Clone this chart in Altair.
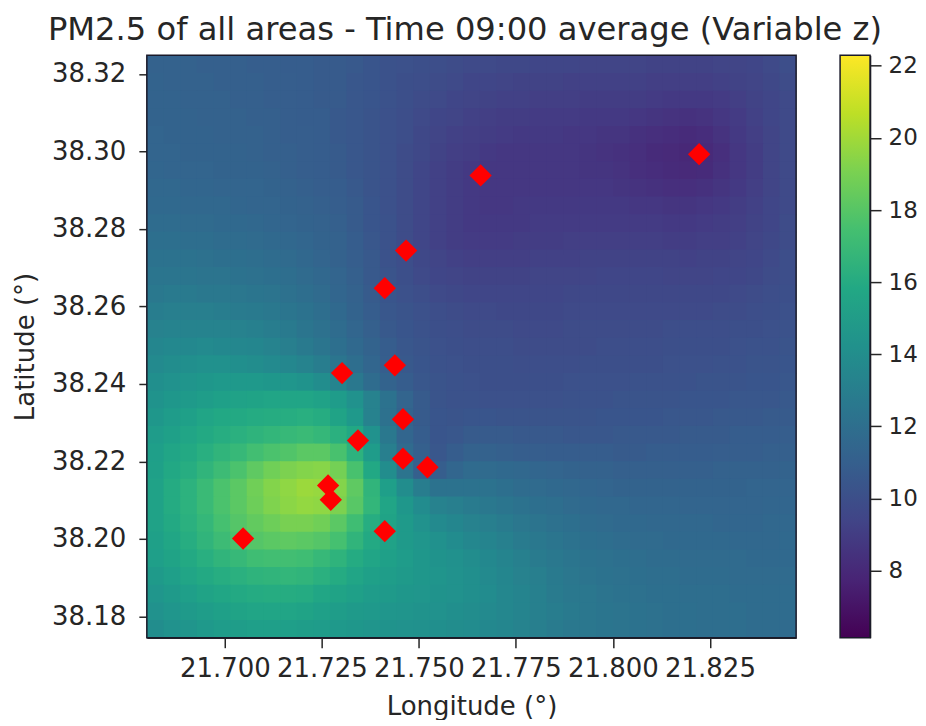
import altair as alt
import pandas as pd

title_text = "PM2.5 of all areas - Time 09:00 average (Variable z)"
lon_range = [21.6799, 21.8472]
lat_range = [38.1745, 38.3248]
z_range = [6.14, 22.29]
x_ticks = [21.700, 21.725, 21.750, 21.775, 21.800, 21.825]
y_ticks = [38.18, 38.20, 38.22, 38.24, 38.26, 38.28, 38.30, 38.32]
z_ticks = [8, 10, 12, 14, 16, 18, 20, 22]

station_lon = [21.7047, 21.7266, 21.7273, 21.7412, 21.7343, 21.7459, 21.7522,
               21.7459, 21.7302, 21.7438, 21.7412, 21.7467, 21.7659, 21.8222]
station_lat = [38.2001, 38.2138, 38.2101, 38.2020, 38.2254, 38.2207, 38.2185,
               38.2309, 38.2428, 38.2448, 38.2647, 38.2744, 38.2938, 38.2993]

# rows from the top of the picture to the bottom, columns left to right
z_rows = [
 [11.1,11.1,11.1,11.0,11.0,11.0,10.9,10.9,10.8,10.8,10.7,10.7,10.6,10.4,10.2,10.1,10.0,9.9,9.8,9.7,9.7,9.6,9.6,9.5,9.5,9.5,9.4,9.4,9.4,9.4,9.3,9.3,9.3,9.3,9.4,9.4,9.5,9.7,9.9],
 [11.2,11.1,11.1,11.1,11.0,11.0,11.0,10.9,10.9,10.8,10.7,10.7,10.5,10.4,10.2,10.0,9.9,9.8,9.7,9.5,9.5,9.4,9.3,9.3,9.3,9.2,9.2,9.2,9.2,9.2,9.1,9.1,9.1,9.1,9.2,9.3,9.4,9.6,9.8],
 [11.2,11.2,11.1,11.1,11.1,11.0,11.0,10.9,10.9,10.8,10.7,10.7,10.5,10.4,10.2,10.0,9.8,9.7,9.5,9.4,9.3,9.2,9.2,9.1,9.1,9.1,9.0,9.0,9.0,9.0,8.9,8.8,8.8,8.8,8.9,9.1,9.3,9.5,9.7],
 [11.2,11.2,11.2,11.1,11.1,11.1,11.0,11.0,10.9,10.8,10.8,10.6,10.5,10.3,10.1,9.9,9.7,9.5,9.4,9.2,9.1,9.0,9.0,8.9,8.9,8.9,8.8,8.8,8.8,8.7,8.6,8.5,8.4,8.5,8.7,8.9,9.2,9.5,9.7],
 [11.3,11.2,11.2,11.2,11.1,11.1,11.1,11.0,10.9,10.9,10.8,10.6,10.5,10.3,10.1,9.9,9.6,9.4,9.2,9.1,9.0,8.9,8.8,8.8,8.8,8.7,8.7,8.6,8.6,8.4,8.3,8.2,8.1,8.2,8.5,8.8,9.1,9.4,9.7],
 [11.3,11.3,11.2,11.2,11.2,11.2,11.1,11.0,11.0,10.9,10.8,10.7,10.5,10.3,10.1,9.8,9.6,9.3,9.1,9.0,8.8,8.7,8.7,8.7,8.7,8.7,8.6,8.5,8.4,8.3,8.1,8.0,7.9,8.0,8.3,8.7,9.0,9.4,9.7],
 [11.4,11.3,11.3,11.3,11.2,11.2,11.2,11.1,11.0,10.9,10.8,10.7,10.5,10.3,10.1,9.8,9.5,9.2,9.0,8.8,8.7,8.7,8.7,8.7,8.7,8.7,8.6,8.6,8.5,8.3,8.2,8.1,8.0,8.1,8.4,8.7,9.0,9.4,9.7],
 [11.5,11.5,11.4,11.4,11.3,11.3,11.3,11.2,11.1,11.0,10.9,10.8,10.6,10.3,10.1,9.8,9.5,9.2,9.0,8.8,8.7,8.7,8.7,8.7,8.7,8.7,8.7,8.7,8.6,8.5,8.4,8.3,8.3,8.4,8.6,8.8,9.1,9.4,9.7],
 [11.6,11.6,11.5,11.5,11.5,11.4,11.3,11.3,11.2,11.1,11.0,10.9,10.7,10.4,10.1,9.8,9.5,9.2,9.0,8.8,8.7,8.7,8.8,8.8,8.8,8.8,8.8,8.8,8.8,8.7,8.7,8.6,8.6,8.7,8.8,9.0,9.2,9.5,9.7],
 [11.8,11.8,11.7,11.7,11.6,11.6,11.5,11.4,11.3,11.2,11.1,11.0,10.7,10.4,10.2,9.8,9.5,9.2,9.0,8.8,8.8,8.8,8.8,8.9,8.9,8.9,8.9,8.9,8.9,8.9,8.9,8.8,8.8,8.9,9.0,9.1,9.3,9.5,9.8],
 [12.0,12.0,11.9,11.9,11.8,11.8,11.7,11.6,11.5,11.4,11.2,11.1,10.8,10.5,10.2,9.8,9.5,9.2,9.0,8.9,8.9,8.9,9.0,9.0,9.0,9.1,9.1,9.1,9.1,9.1,9.1,9.0,9.0,9.1,9.1,9.2,9.4,9.6,9.8],
 [12.2,12.2,12.2,12.1,12.0,12.0,11.9,11.8,11.7,11.5,11.3,11.1,10.9,10.6,10.2,9.9,9.6,9.4,9.2,9.1,9.1,9.1,9.1,9.2,9.2,9.2,9.3,9.3,9.3,9.3,9.3,9.3,9.2,9.3,9.3,9.4,9.5,9.7,9.9],
 [12.4,12.4,12.4,12.3,12.3,12.2,12.1,12.0,11.9,11.7,11.5,11.3,11.0,10.6,10.3,10.0,9.7,9.5,9.4,9.3,9.3,9.3,9.3,9.4,9.4,9.4,9.4,9.5,9.5,9.5,9.5,9.4,9.4,9.4,9.5,9.5,9.6,9.8,9.9],
 [12.6,12.7,12.7,12.6,12.6,12.5,12.4,12.3,12.1,11.9,11.7,11.4,11.1,10.7,10.4,10.1,9.9,9.7,9.6,9.5,9.5,9.5,9.5,9.5,9.5,9.6,9.6,9.6,9.6,9.6,9.6,9.6,9.6,9.6,9.6,9.7,9.8,9.9,10.0],
 [12.9,13.0,13.0,13.0,12.9,12.8,12.7,12.6,12.4,12.2,11.9,11.6,11.2,10.8,10.5,10.3,10.1,9.9,9.8,9.7,9.7,9.6,9.6,9.6,9.6,9.7,9.7,9.7,9.7,9.7,9.7,9.7,9.7,9.7,9.8,9.8,9.9,10.0,10.1],
 [13.2,13.3,13.3,13.3,13.3,13.2,13.1,12.9,12.7,12.4,12.1,11.8,11.4,11.0,10.6,10.4,10.2,10.0,9.9,9.8,9.8,9.8,9.7,9.7,9.7,9.8,9.8,9.8,9.8,9.8,9.8,9.9,9.9,9.9,9.9,10.0,10.0,10.1,10.2],
 [13.5,13.7,13.7,13.8,13.7,13.6,13.5,13.3,13.0,12.7,12.4,12.0,11.6,11.2,10.8,10.5,10.3,10.1,10.0,9.9,9.9,9.9,9.8,9.8,9.8,9.8,9.8,9.9,9.9,9.9,9.9,10.0,10.0,10.0,10.0,10.1,10.2,10.2,10.3],
 [13.8,14.0,14.1,14.2,14.2,14.1,14.0,13.8,13.6,13.3,12.9,12.4,11.9,11.4,10.9,10.6,10.4,10.2,10.1,10.0,10.0,10.0,9.9,9.9,9.9,9.9,10.0,10.0,10.0,10.0,10.0,10.1,10.1,10.1,10.2,10.2,10.3,10.3,10.4],
 [14.1,14.3,14.5,14.7,14.8,14.8,14.8,14.7,14.6,14.4,14.0,13.4,12.6,11.8,11.2,10.8,10.5,10.3,10.2,10.1,10.0,10.0,10.0,10.0,10.0,10.1,10.1,10.1,10.1,10.2,10.2,10.2,10.2,10.3,10.3,10.3,10.4,10.4,10.5],
 [14.4,14.7,14.9,15.1,15.3,15.4,15.5,15.6,15.6,15.6,15.4,15.0,14.3,13.2,12.2,11.3,10.7,10.3,10.2,10.2,10.1,10.1,10.1,10.1,10.1,10.2,10.2,10.2,10.3,10.3,10.3,10.3,10.4,10.4,10.4,10.5,10.5,10.5,10.6],
 [14.7,15.0,15.3,15.6,15.8,15.9,16.0,16.1,16.2,16.3,16.1,15.5,14.8,13.2,12.1,11.2,10.7,10.4,10.3,10.4,10.4,10.3,10.3,10.3,10.3,10.3,10.3,10.4,10.4,10.4,10.4,10.5,10.5,10.5,10.6,10.6,10.6,10.7,10.7],
 [15.0,15.3,15.6,15.9,16.2,16.4,16.6,16.8,17.0,17.1,16.9,16.4,15.8,14.3,12.6,11.4,10.8,10.4,10.5,10.7,10.7,10.7,10.6,10.6,10.6,10.5,10.5,10.5,10.6,10.6,10.6,10.6,10.7,10.7,10.7,10.8,10.8,10.8,10.9],
 [15.2,15.6,15.9,16.3,16.7,17.0,17.4,17.7,17.9,18.2,18.2,17.6,16.5,15.0,13.0,11.7,11.0,10.5,10.8,11.1,11.1,11.0,10.9,10.9,10.8,10.8,10.8,10.8,10.7,10.7,10.8,10.8,10.8,10.8,10.9,10.9,10.9,11.0,11.0],
 [15.3,15.8,16.2,16.7,17.2,17.7,18.3,18.8,19.1,19.3,19.4,18.9,17.6,15.8,14.0,12.3,11.0,10.9,11.4,11.7,11.7,11.6,11.5,11.4,11.3,11.2,11.1,11.1,11.0,11.0,11.0,11.0,11.0,11.0,11.1,11.1,11.1,11.1,11.2],
 [15.4,16.0,16.5,17.1,17.7,18.2,18.8,19.3,19.6,19.9,19.8,19.3,18.3,16.7,15.2,14.0,12.9,12.2,12.2,12.2,12.2,12.0,11.8,11.7,11.6,11.5,11.4,11.3,11.2,11.2,11.2,11.2,11.2,11.2,11.2,11.2,11.3,11.3,11.3],
 [15.4,16.0,16.5,17.1,17.7,18.2,18.7,19.2,19.5,19.7,19.6,19.1,18.1,16.8,15.6,14.7,13.9,13.2,13.0,12.8,12.6,12.4,12.2,12.0,11.9,11.7,11.6,11.5,11.5,11.4,11.4,11.4,11.3,11.3,11.3,11.3,11.3,11.4,11.4],
 [15.4,15.9,16.4,16.9,17.5,18.0,18.4,18.7,19.0,19.0,18.8,18.2,17.3,16.2,15.5,14.9,14.3,13.8,13.5,13.2,13.0,12.8,12.5,12.3,12.1,12.0,11.8,11.7,11.6,11.6,11.5,11.5,11.5,11.5,11.4,11.4,11.4,11.5,11.5],
 [15.3,15.7,16.2,16.7,17.2,17.7,18.0,18.2,18.3,18.2,18.0,17.5,16.7,15.9,15.4,14.9,14.6,14.2,13.9,13.6,13.4,13.1,12.8,12.6,12.4,12.2,12.0,11.9,11.8,11.7,11.7,11.6,11.6,11.6,11.6,11.5,11.5,11.5,11.6],
 [15.2,15.5,15.9,16.3,16.7,17.0,17.3,17.4,17.4,17.3,17.0,16.6,16.0,15.6,15.3,15.0,14.7,14.4,14.2,14.0,13.7,13.4,13.1,12.8,12.6,12.4,12.2,12.1,12.0,11.9,11.8,11.8,11.7,11.7,11.7,11.7,11.6,11.6,11.6],
 [14.9,15.2,15.6,15.9,16.2,16.4,16.6,16.7,16.8,16.7,16.4,16.0,15.6,15.3,15.1,14.9,14.7,14.5,14.3,14.1,13.8,13.5,13.2,13.0,12.7,12.5,12.3,12.2,12.1,12.0,11.9,11.9,11.8,11.8,11.8,11.7,11.7,11.7,11.7],
 [14.6,14.9,15.2,15.5,15.7,15.9,16.0,16.1,16.1,16.0,15.7,15.5,15.3,15.0,14.9,14.7,14.6,14.4,14.3,14.1,13.9,13.6,13.4,13.1,12.8,12.6,12.5,12.3,12.2,12.1,12.0,12.0,11.9,11.9,11.9,11.8,11.8,11.8,11.8],
 [14.3,14.6,14.9,15.1,15.3,15.5,15.6,15.6,15.6,15.5,15.3,15.1,14.9,14.8,14.6,14.5,14.4,14.3,14.1,14.0,13.8,13.6,13.4,13.1,12.9,12.7,12.5,12.4,12.3,12.2,12.1,12.0,12.0,11.9,11.9,11.9,11.8,11.8,11.8],
 [14.0,14.3,14.5,14.8,15.0,15.1,15.2,15.2,15.2,15.1,15.0,14.8,14.7,14.5,14.4,14.3,14.2,14.1,14.0,13.9,13.7,13.5,13.3,13.0,12.8,12.6,12.5,12.4,12.3,12.2,12.1,12.0,12.0,11.9,11.9,11.9,11.8,11.8,11.7],
]

viridis_stops = ["#440154", "#482475", "#414487", "#355f8d", "#2a788e", "#21918c",
                 "#22a884", "#44bf70", "#7ad151", "#bddf26", "#fde725"]

plot_w = 650
plot_h = 583
n_rows = len(z_rows)
n_cols = len(z_rows[0])
assert all(len(r) == n_cols for r in z_rows), [len(r) for r in z_rows]
lon_span = lon_range[1] - lon_range[0]
lat_span = lat_range[1] - lat_range[0]
lon_px = lon_span / plot_w
lat_px = lat_span / plot_h
lon_edges = [lon_range[0] + i * lon_span / n_cols for i in range(n_cols + 1)]
lat_edges = [lat_range[1] - j * lat_span / n_rows for j in range(n_rows + 1)]
# each cell reaches one pixel under its right and lower neighbours, which are
# drawn after it, so no background shows through between cells
cells = []
for r, row in enumerate(z_rows):
    for c, v in enumerate(row):
        cells.append({"lon0": lon_edges[c], "lon1": lon_edges[c + 1] + lon_px,
                      "lat1": lat_edges[r], "lat0": lat_edges[r + 1] - lat_px, "z": v})
grid = pd.DataFrame(cells)
stations = pd.DataFrame({"lon": station_lon, "lat": station_lat})
bar = pd.DataFrame({"lo": [z_range[0]], "hi": [z_range[1]]})
frame = pd.DataFrame({"lon0": [lon_range[0]], "lon1": [lon_range[1]],
                      "lat0": [lat_range[0]], "lat1": [lat_range[1]]})

ink = "#262626"
font = "DejaVu Sans"
axis_common = dict(labelFont=font, labelColor=ink, titleFont=font,
                   titleFontSize=26, titleColor=ink, titleFontWeight="normal",
                   tickColor=ink, domainColor=ink, tickWidth=1.5,
                   domainWidth=1.5, grid=False)

x_scale = alt.Scale(domain=lon_range, nice=False, zero=False)
y_scale = alt.Scale(domain=lat_range, nice=False, zero=False)
color_scale = alt.Scale(scheme="viridis", domain=z_range)

heat = alt.Chart(grid).mark_rect(clip=True).encode(
    x=alt.X("lon0:Q", scale=x_scale, title="Longitude (°)",
            axis=alt.Axis(values=x_ticks, format=".3f", labelOverlap=False, labelFontSize=26,
                          tickSize=10, labelPadding=8, titlePadding=12, **axis_common)),
    x2="lon1:Q",
    y=alt.Y("lat0:Q", scale=y_scale, title="Latitude (°)",
            axis=alt.Axis(values=y_ticks, format=".2f", labelOverlap=False, labelFontSize=26,
                          tickSize=8, labelPadding=13, titlePadding=13, **axis_common)),
    y2="lat1:Q",
    color=alt.Color("z:Q", scale=color_scale, legend=None),
)
border = alt.Chart(frame).mark_rect(filled=False, stroke="#1a1a2a", strokeWidth=1.5).encode(
    x=alt.X("lon0:Q", scale=x_scale), x2="lon1:Q",
    y=alt.Y("lat0:Q", scale=y_scale), y2="lat1:Q",
)
points = alt.Chart(stations).mark_point(shape="diamond", filled=True, color="#ff0000",
                                        size=500, opacity=1).encode(
    x=alt.X("lon:Q", scale=x_scale),
    y=alt.Y("lat:Q", scale=y_scale),
)
main = (heat + border + points).properties(width=plot_w, height=plot_h)

gradient = alt.Gradient(
    gradient="linear", x1=0, x2=0, y1=1, y2=0,
    stops=[alt.GradientStop(offset=i / (len(viridis_stops) - 1), color=s)
           for i, s in enumerate(viridis_stops)],
)
colorbar = alt.Chart(bar).mark_rect(color=gradient, stroke="#1a1a2a", strokeWidth=1.5).encode(
    x=alt.value(0), x2=alt.value(30),
    y=alt.Y("lo:Q", scale=alt.Scale(domain=z_range, nice=False, zero=False), title=None,
            axis=alt.Axis(orient="right", values=z_ticks, format="d", labelOverlap=False,
                          labelFontSize=23, tickSize=11, labelPadding=7, **axis_common)),
    y2="hi:Q",
).properties(width=30, height=plot_h)

chart = alt.hconcat(main, colorbar, spacing=42).configure_view(
    stroke=None
).properties(
    padding={"left": 4, "right": 0, "top": 6, "bottom": 0}, background="white",
    title=alt.TitleParams(title_text, font=font, fontSize=32.2, fontWeight="normal",
                          color=ink, offset=7, anchor="start", frame="group", dx=-99),
)
chart.save("out.html", embed_options={"renderer": "svg", "actions": False})
